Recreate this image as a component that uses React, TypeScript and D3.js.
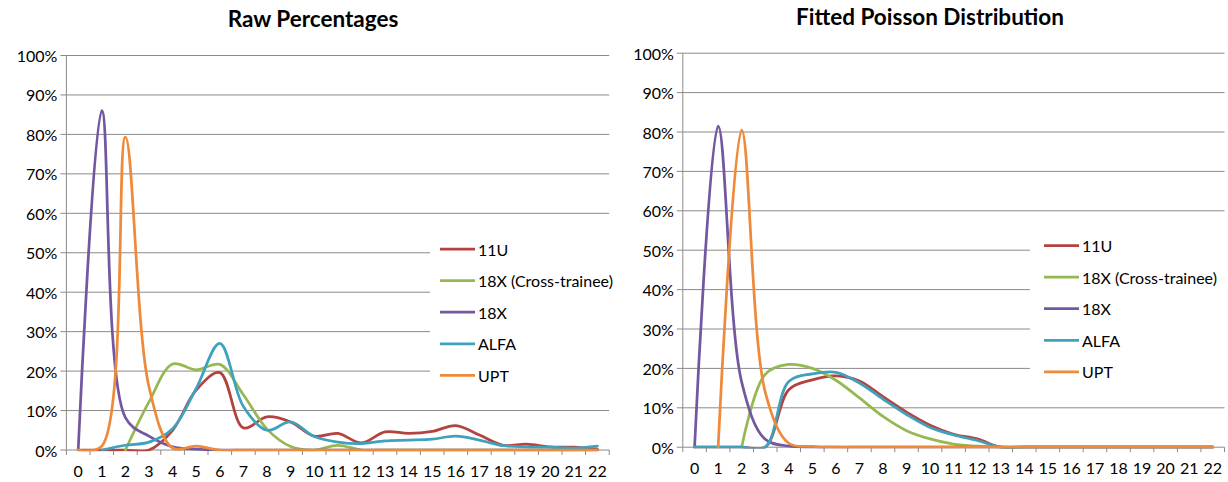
import React from "react";
import * as d3 from "d3";

const categories = ["0","1","2","3","4","5","6","7","8","9","10","11","12","13","14","15","16","17","18","19","20","21","22"];
const yTicks = [0, 10, 20, 30, 40, 50, 60, 70, 80, 90, 100];
const seriesNames = ["11U", "18X (Cross-trainee)", "18X", "ALFA", "UPT"];
const seriesColors = ["#B4433F", "#96B853", "#7158A0", "#3FA1BE", "#EF8A3A"];

// Raw Percentages (percent)
const raw11U = [0, 0, 0, 0, 5, 15.2, 19.6, 5.6, 8.4, 7.1, 3.5, 4.2, 1.8, 4.6, 4.2, 4.7, 6.2, 3.8, 1.2, 1.5, 0.8, 0.7, 0.2];
const rawCross = [null, null, 0, 12.2, 21.8, 20.3, 21.7, 14, 5.3, 0.9, 0, 1.2, 0, 0, 0, 0, 0, 0, 0, 0, 0, 0, 0];
const raw18X = [0, 86, 8.2, 3.5, 0.8, 0.2, 0, 0, 0, 0, 0, 0, 0, 0, 0, 0, 0, 0, 0, 0, 0, 0, 0];
const rawALFA = [null, 0, 1.2, 2, 5.4, 15.6, 27, 11, 5, 7.1, 3.4, 2, 1.6, 2.3, 2.5, 2.75, 3.5, 2.5, 1.1, 0.8, 0.7, 0.5, 1];
const rawUPT = [0, 1, 79.3, 16, 0.5, 1, 0, 0, 0, 0, 0, 0, 0, 0, 0, 0, 0, 0, 0, 0, 0, 0, 0];

// Fitted Poisson Distribution (percent)
const fit11U = [0, 0, 0, 0, 14.6, 17.1, 18.1, 16.8, 12.8, 8.9, 5.6, 3.3, 2.1, 0, 0, 0, 0, 0, 0, 0, 0, 0, 0];
const fitCross = [null, null, 0, 18.5, 21, 20, 17, 12.5, 7.8, 4.2, 2.1, 0.8, 0.25, 0, 0, 0, 0, 0, 0, 0, 0, 0, 0];
const fit18X = [0, 81.5, 16.5, 2, 0.3, 0, 0, 0, 0, 0, 0, 0, 0, 0, 0, 0, 0, 0, 0, 0, 0, 0, 0];
const fitALFA = [0, 0, 0, 0, 16.7, 18.6, 19, 16.3, 12.2, 8.3, 5, 3.1, 1.7, 0, 0, 0, 0, 0, 0, 0, 0, 0, 0];
const fitUPT = [null, 0, 80.5, 14, 1, 0.2, 0, 0, 0, 0, 0, 0, 0, 0, 0, 0, 0, 0, 0, 0, 0, 0, 0];

const rawSeries = [raw11U, rawCross, raw18X, rawALFA, rawUPT];
const fitSeries = [fit11U, fitCross, fit18X, fitALFA, fitUPT];

const FONT = "Lato, 'Open Sans', sans-serif";
const GRID = "#8a8a8a";

type ChartProps = {
  id: string;
  title: string;
  titleX: number;
  titleY: number;
  left: number;
  right: number;
  y0: number;
  y100: number;
  gridCut: number;
  legendLineX: number;
  legendY: number;
  series: (number | null)[][];
};

function Chart(p: ChartProps) {
  const x = d3.scaleBand<string>().domain(categories).range([p.left, p.right]).paddingInner(0).paddingOuter(0);
  const y = d3.scaleLinear().domain([0, 100]).range([p.y0, p.y100]);
  const bw = x.bandwidth();
  const cx = (i: number) => (x(categories[i]) as number) + bw / 2;
  const line = d3
    .line<number | null>()
    .defined((d) => d != null)
    .x((_, i) => cx(i))
    .y((d) => y(d as number))
    .curve(d3.curveCatmullRom.alpha(0.5));
  const boundaries = categories.map((c) => x(c) as number).concat([p.right]);
  const legendStep = 31.6;
  return (
    <g>
      <defs>
        <clipPath id={p.id + "-clip"}>
          <rect x={p.left} y={p.y100 - 20} width={p.right - p.left + 4} height={p.y0 - p.y100 + 21.2} />
        </clipPath>
      </defs>
      <text x={p.titleX} y={p.titleY} textAnchor="middle" dominantBaseline="central" fontFamily={FONT} fontWeight="bold" fontSize={22.5} fill="#000">
        {p.title}
      </text>
      {yTicks.map((t) => {
        const cut = t >= 20 && t <= 50;
        return (
          <g key={t}>
            {t > 0 && (
              <line x1={p.left - 6} x2={cut ? p.gridCut : p.right} y1={y(t)} y2={y(t)} stroke={GRID} strokeWidth={1} />
            )}
            {t === 0 && <line x1={p.left - 6} x2={p.left} y1={y(t)} y2={y(t)} stroke={GRID} strokeWidth={1} />}
            <text x={p.left - 9} y={y(t)} textAnchor="end" dominantBaseline="central" fontFamily={FONT} fontSize={16} fill="#000">
              {t + "%"}
            </text>
          </g>
        );
      })}
      <line x1={p.left} x2={p.left} y1={p.y100} y2={p.y0} stroke={GRID} strokeWidth={1} />
      <line x1={p.left} x2={p.right} y1={p.y0} y2={p.y0} stroke={GRID} strokeWidth={1} />
      {boundaries.map((b, i) => (
        <line key={i} x1={b} x2={b} y1={p.y0} y2={p.y0 + 5} stroke={GRID} strokeWidth={1} />
      ))}
      {categories.map((c, i) => (
        <text key={c} x={cx(i)} y={p.y0 + 20} textAnchor="middle" dominantBaseline="central" fontFamily={FONT} fontSize={16} fill="#000">
          {c}
        </text>
      ))}
      <g clipPath={`url(#${p.id}-clip)`}>
        {p.series.map((s, i) => (
          <path key={i} d={line(s) || ""} fill="none" stroke={seriesColors[i]} strokeWidth={2.75} strokeLinejoin="round" strokeLinecap="round" />
        ))}
      </g>
      {seriesNames.map((n, i) => (
        <g key={n}>
          <line x1={p.legendLineX} x2={p.legendLineX + 35} y1={p.legendY + i * legendStep} y2={p.legendY + i * legendStep} stroke={seriesColors[i]} strokeWidth={2.75} />
          <text x={p.legendLineX + 38} y={p.legendY + i * legendStep} dominantBaseline="central" fontFamily={FONT} fontSize={16} fill="#000">
            {n}
          </text>
        </g>
      ))}
    </g>
  );
}

export default function App() {
  return (
    <svg width={1228} height={482} style={{ position: "absolute", left: 0, top: 0, background: "#fff" }}>
      <rect x={0} y={0} width={1228} height={482} fill="#fff" />
      <Chart id="raw" title="Raw Percentages" titleX={313} titleY={18} left={66.4} right={609.2} y0={450} y100={55.5} gridCut={430} legendLineX={440} legendY={249} series={rawSeries} />
      <Chart id="fit" title="Fitted Poisson Distribution" titleX={930} titleY={16} left={682.8} right={1224.5} y0={447.2} y100={53.2} gridCut={1030} legendLineX={1044} legendY={245.5} series={fitSeries} />
    </svg>
  );
}
